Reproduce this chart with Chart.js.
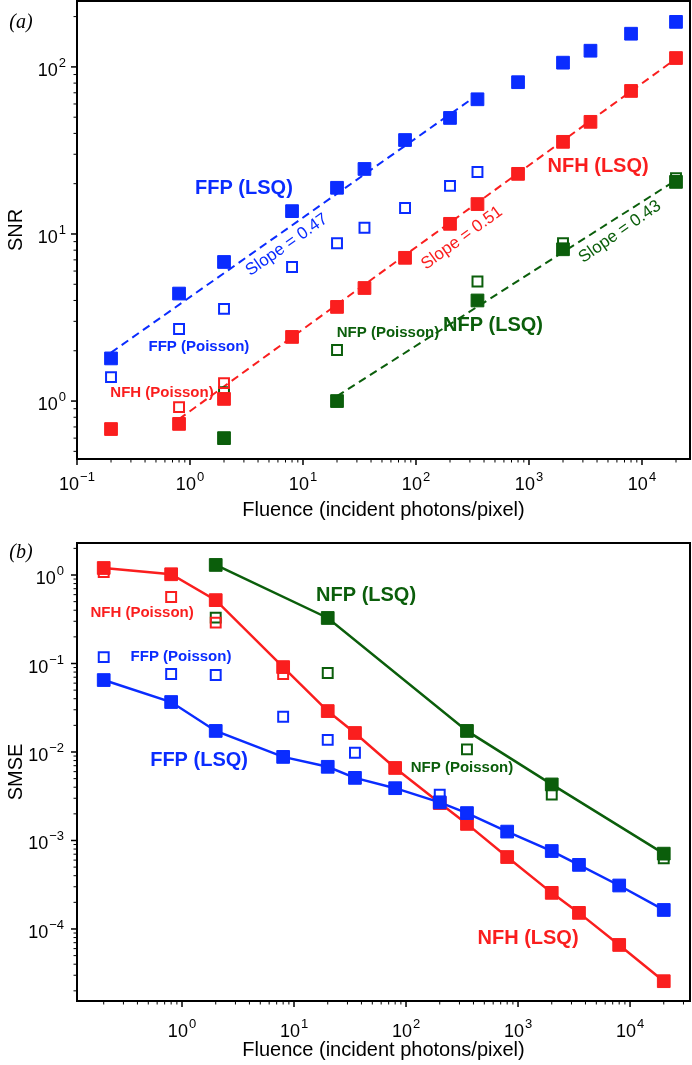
<!DOCTYPE html>
<html>
<head>
<meta charset="utf-8">
<script src="https://cdn.jsdelivr.net/npm/chart.js@4.4.1/dist/chart.umd.min.js"></script>
<style>
  html, body { margin: 0; padding: 0; background: #fff; }
  #wrap { position: relative; width: 692px; height: 1065px; }
  .panel { position: absolute; left: 0; }
</style>
</head>
<body>
<div id="wrap">
  <div class="panel" style="top:0"><canvas id="snr" width="692" height="530" style="width:692px;height:530px"></canvas></div>
  <div class="panel" style="top:530px"><canvas id="smse" width="692" height="535" style="width:692px;height:535px"></canvas></div>
</div>
<script>
// fluence values (incident photons/pixel), shared by both panels
const fluence = [0.2, 0.8, 2, 8, 20, 35, 80, 200, 350, 800, 2000, 3500, 8000, 20000]

// (a) SNR
const snrFfpLsq     = [1.8, 4.4, 6.8, 13.7, 18.9, 24.5, 36.5, 49.5, 64, 81, 106, 125, 158, 186]
const snrFfpPoisson = [1.39, 2.7, 3.56, 6.35, 8.8, 10.9, 14.3, 19.4, 23.5, null, null, null, null, null]
const snrNfhLsq     = [0.68, 0.73, 1.03, 2.42, 3.66, 4.75, 7.2, 11.5, 15.1, 22.9, 35.6, 46.9, 71.8, 113]
const snrNfhPoisson = [null, 0.92, 1.28, null, null, null, null, null, null, null, null, null, null, null]
const snrNfpLsq     = [null, null, 0.60, null, 1.0, null, null, null, 4.0, null, 8.1, null, null, 20.5]
const snrNfpPoisson = [null, null, 1.13, null, 2.02, null, null, null, 5.2, null, 8.8, null, null, 21.6]

// dashed power-law fits (end points)
const fitFfpX = [0.2, 350],   fitFfpY = [1.95, 68]
const fitNfhX = [0.8, 20000], fitNfhY = [0.78, 112]
const fitNfpX = [20, 20000],  fitNfpY = [1.07, 21]

// (b) SMSE
const smseNfhLsq     = [1.2, 1.02, 0.52, 0.091, 0.029, 0.0164, 0.0066, 0.00265, 0.00154, 0.00065, 0.000256, 0.000152, 0.000066, 0.0000257]
const smseNfhPoisson = [1.08, 0.565, 0.29, 0.076, null, null, null, null, null, null, null, null, null, null]
const smseFfpLsq     = [0.065, 0.0367, 0.0173, 0.0088, 0.0068, 0.0051, 0.0039, 0.0027, 0.00204, 0.00126, 0.00076, 0.00053, 0.00031, 0.000164]
const smseFfpPoisson = [0.118, 0.076, 0.074, 0.025, 0.0137, 0.0098, null, 0.0033, 0.0017, null, null, null, null, null]
const smseNfpLsq     = [null, null, 1.3, null, 0.327, null, null, null, 0.0173, null, 0.0043, null, null, 0.00071]
const smseNfpPoisson = [null, null, 0.33, null, 0.078, null, null, null, 0.0107, null, 0.0033, null, null, 0.00063]

// tick labels: exponent of 10
const snrXTickExp  = ['\u22121', '0', '1', '2', '3', '4']
const snrYTickExp  = ['0', '1', '2']
const smseXTickExp = ['0', '1', '2', '3', '4']
const smseYTickExp = ['\u22124', '\u22123', '\u22122', '\u22121', '0']

const xTitle = 'Fluence (incident photons/pixel)'

const BLUE = '#0a2cff'
const RED = '#fa1e1e'
const GREEN = '#0b5e0b'
const FONT = '"Liberation Sans", Arial, Helvetica, sans-serif'

function pts(xs, ys) {
  return xs.map((x, i) => ({x: x, y: ys[i]})).filter(p => p.y != null)
}

function filled(ys, color, line) {
  return {
    data: pts(fluence, ys), showLine: line, borderColor: color, borderWidth: 2.5,
    pointStyle: 'rect', pointRadius: 9, pointBackgroundColor: color,
    pointBorderColor: color, pointBorderWidth: 1, order: 1
  }
}

function open(ys, color) {
  return {
    data: pts(fluence, ys), showLine: false,
    pointStyle: 'rect', pointRadius: 7, pointBackgroundColor: 'rgba(0,0,0,0)',
    pointBorderColor: color, pointBorderWidth: 2, order: 2
  }
}

function fit(xs, ys, color) {
  return {
    data: pts(xs, ys), showLine: true, borderColor: color, borderWidth: 2,
    borderDash: [8, 5], pointRadius: 0, order: 3
  }
}

function num(s) { return Number(s.replace('\u2212', '-')) }

// "10" with a raised exponent
function drawPow(ctx, exp, px, py, align) {
  ctx.font = '18px ' + FONT
  const wb = ctx.measureText('10').width
  ctx.font = '13px ' + FONT
  const we = ctx.measureText(exp).width
  const total = wb + 1 + we
  const x0 = align === 'center' ? px - total / 2 : px - total
  ctx.textAlign = 'left'
  ctx.textBaseline = 'alphabetic'
  ctx.font = '18px ' + FONT
  ctx.fillText('10', x0, py)
  ctx.font = '13px ' + FONT
  ctx.fillText(exp, x0 + wb + 1, py - 9)
}

function logTicks(min, max) {
  const out = []
  for (let e = Math.floor(Math.log10(min)); e <= Math.ceil(Math.log10(max)); e++) {
    for (let k = 1; k <= 9; k++) {
      const v = k * Math.pow(10, e)
      if (v >= min * 0.9999 && v <= max * 1.0001) out.push({v: v, major: k === 1})
    }
  }
  return out
}

function framePlugin(cfg) {
  return {
    id: 'frame',
    afterDatasetsDraw(chart) {
      const {ctx, scales: {x, y}} = chart
      cfg.notes.forEach(n => {
        ctx.save()
        ctx.translate(x.getPixelForValue(n.x), y.getPixelForValue(n.y))
        if (n.rot) ctx.rotate(n.rot * Math.PI / 180)
        ctx.font = (n.bold ? 'bold ' : '') + n.size + 'px ' + FONT
        ctx.fillStyle = n.color
        ctx.textAlign = 'center'
        ctx.textBaseline = 'middle'
        ctx.fillText(n.text, 0, 0)
        ctx.restore()
      })
    },
    afterDraw(chart) {
      const {ctx, chartArea: a, scales: {x, y}} = chart
      ctx.save()
      ctx.strokeStyle = '#000'
      ctx.fillStyle = '#000'
      logTicks(x.min, x.max).forEach(t => {
        const px = x.getPixelForValue(t.v)
        ctx.lineWidth = t.major ? 1.5 : 1
        ctx.beginPath()
        ctx.moveTo(px, a.bottom)
        ctx.lineTo(px, a.bottom + (t.major ? 6 : 3.5))
        ctx.stroke()
      })
      logTicks(y.min, y.max).forEach(t => {
        const py = y.getPixelForValue(t.v)
        ctx.lineWidth = t.major ? 1.5 : 1
        ctx.beginPath()
        ctx.moveTo(a.left, py)
        ctx.lineTo(a.left - (t.major ? 6 : 3.5), py)
        ctx.stroke()
      })
      ctx.lineWidth = 2
      ctx.strokeRect(a.left, a.top, a.right - a.left, a.bottom - a.top)

      cfg.xExp.forEach(e => {
        drawPow(ctx, e, x.getPixelForValue(Math.pow(10, num(e))), a.bottom + cfg.xLabelDrop, 'center')
      })
      cfg.yExp.forEach(e => {
        drawPow(ctx, e, cfg.yLabelRight, y.getPixelForValue(Math.pow(10, num(e))) + 9, 'right')
      })

      ctx.font = 'italic 20px "Liberation Serif", "Times New Roman", serif'
      ctx.textAlign = 'center'
      ctx.textBaseline = 'middle'
      ctx.fillText(cfg.panel, 21, 23)
      ctx.restore()
    }
  }
}

function makeChart(id, cfg) {
  return new Chart(document.getElementById(id), {
    type: 'scatter',
    data: {datasets: cfg.datasets},
    options: {
      responsive: false,
      animation: false,
      events: [],
      layout: {padding: cfg.padding, autoPadding: false},
      plugins: {legend: {display: false}, tooltip: {enabled: false}},
      scales: {
        x: {
          type: 'logarithmic', min: cfg.xMin, max: cfg.xMax,
          grid: {display: false}, border: {display: false}, ticks: {display: false},
          title: {display: true, text: xTitle, color: '#000', font: {size: 20, family: FONT},
                  padding: {top: 0, bottom: cfg.xTitlePad}},
          afterFit: s => { s.height = cfg.xAxisHeight }
        },
        y: {
          type: 'logarithmic', min: cfg.yMin, max: cfg.yMax,
          grid: {display: false}, border: {display: false}, ticks: {display: false},
          title: {display: true, text: cfg.yTitle, color: '#000', font: {size: 20, family: FONT},
                  padding: {top: 4, bottom: 0}},
          afterFit: s => { s.width = 77 }
        }
      }
    },
    plugins: [framePlugin(cfg)]
  })
}

makeChart('snr', {
  panel: '(a)',
  padding: {top: 1, right: 2, left: 0, bottom: 0},
  xMin: 0.1, xMax: 26600, yMin: 0.45, yMax: 248,
  xAxisHeight: 71, xTitlePad: 8, xLabelDrop: 31, yLabelRight: 66,
  yTitle: 'SNR',
  xExp: snrXTickExp, yExp: snrYTickExp,
  datasets: [
    filled(snrFfpLsq, BLUE, false),
    filled(snrNfhLsq, RED, false),
    filled(snrNfpLsq, GREEN, false),
    open(snrFfpPoisson, BLUE),
    open(snrNfhPoisson, RED),
    open(snrNfpPoisson, GREEN),
    fit(fitFfpX, fitFfpY, BLUE),
    fit(fitNfhX, fitNfhY, RED),
    fit(fitNfpX, fitNfpY, GREEN)
  ],
  notes: [
    {text: 'FFP (LSQ)', x: 3.0, y: 18.8, color: BLUE, size: 20, bold: true},
    {text: 'FFP (Poisson)', x: 1.2, y: 2.1, color: BLUE, size: 15, bold: true},
    {text: 'NFH (Poisson)', x: 0.565, y: 1.12, color: RED, size: 15, bold: true},
    {text: 'NFH (LSQ)', x: 4090, y: 25.5, color: RED, size: 20, bold: true},
    {text: 'NFP (Poisson)', x: 56.5, y: 2.55, color: GREEN, size: 15, bold: true},
    {text: 'NFP (LSQ)', x: 480, y: 2.85, color: GREEN, size: 20, bold: true},
    {text: 'Slope = 0.47', x: 7.2, y: 8.6, color: BLUE, size: 17, rot: -35},
    {text: 'Slope = 0.51', x: 255, y: 9.46, color: RED, size: 17, rot: -36},
    {text: 'Slope = 0.43', x: 6380, y: 10.3, color: GREEN, size: 17, rot: -35}
  ]
})

makeChart('smse', {
  panel: '(b)',
  padding: {top: 13, right: 2, left: 0, bottom: 0},
  xMin: 0.1155, xMax: 34300, yMin: 1.535e-5, yMax: 2.3,
  xAxisHeight: 64, xTitlePad: 3, xLabelDrop: 36, yLabelRight: 64,
  yTitle: 'SMSE',
  xExp: smseXTickExp, yExp: smseYTickExp,
  datasets: [
    filled(smseFfpLsq, BLUE, true),
    filled(smseNfhLsq, RED, true),
    filled(smseNfpLsq, GREEN, true),
    open(smseFfpPoisson, BLUE),
    open(smseNfhPoisson, RED),
    open(smseNfpPoisson, GREEN)
  ],
  notes: [
    {text: 'NFH (Poisson)', x: 0.44, y: 0.372, color: RED, size: 15, bold: true},
    {text: 'FFP (Poisson)', x: 0.98, y: 0.118, color: BLUE, size: 15, bold: true},
    {text: 'FFP (LSQ)', x: 1.42, y: 0.0081, color: BLUE, size: 20, bold: true},
    {text: 'NFP (LSQ)', x: 44, y: 0.594, color: GREEN, size: 20, bold: true},
    {text: 'NFP (Poisson)', x: 316, y: 0.0066, color: GREEN, size: 15, bold: true},
    {text: 'NFH (LSQ)', x: 1228, y: 7.9e-5, color: RED, size: 20, bold: true}
  ]
})
</script>
</body>
</html>
